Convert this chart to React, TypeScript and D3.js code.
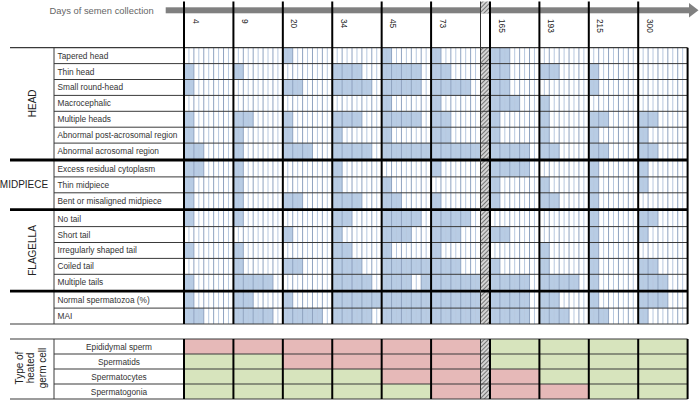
import { useEffect, useRef } from "react";
import * as d3 from "d3";

// days of semen collection (columns)
const days = ["4", "9", "20", "34", "45", "73", "165", "193", "215", "300"];

// row labels per section
const headLabels = [
  "Tapered head",
  "Thin head",
  "Small round-head",
  "Macrocephalic",
  "Multiple heads",
  "Abnormal post-acrosomal region",
  "Abnormal acrosomal region",
];
const midpieceLabels = ["Excess residual cytoplasm", "Thin midpiece", "Bent or misaligned midpiece"];
const flagellaLabels = ["No tail", "Short tail", "Irregularly shaped tail", "Coiled tail", "Multiple tails"];
const outcomeLabels = ["Normal spermatozoa (%)", "MAI"];

// shaded sub-cells, 5 per day ("1" = shaded)
const headFills = [
  ["00000", "00000", "10000", "00000", "10000", "10000", "11000", "00000", "00000", "00000"],
  ["10000", "10000", "00000", "11100", "11110", "11000", "11000", "11000", "10000", "00000"],
  ["10000", "00000", "11000", "11110", "11110", "11110", "11000", "00000", "10000", "00000"],
  ["00000", "00000", "00000", "00000", "10000", "10000", "11100", "10000", "00000", "00000"],
  ["10000", "11000", "10000", "11100", "11110", "11000", "10000", "10000", "11000", "11000"],
  ["10000", "10000", "10000", "10000", "10000", "11000", "10000", "10000", "10000", "10000"],
  ["11000", "10000", "11100", "11110", "11111", "11111", "11110", "11000", "11000", "11000"],
];
const midpieceFills = [
  ["11000", "10000", "00000", "10000", "00000", "10000", "11110", "00000", "10000", "10000"],
  ["10000", "10000", "00000", "10000", "10000", "00000", "10000", "10000", "10000", "10000"],
  ["10000", "10000", "11000", "11100", "11000", "10000", "10000", "11000", "10000", "00000"],
];
const flagellaFills = [
  ["10000", "10000", "00000", "11000", "11110", "11110", "00000", "00000", "10000", "11000"],
  ["00000", "00000", "10000", "10000", "11100", "11100", "11000", "00000", "10000", "10000"],
  ["10000", "10000", "00000", "11000", "10000", "10000", "00000", "10000", "10000", "00000"],
  ["00000", "10000", "11000", "11100", "11111", "11100", "10000", "10000", "10000", "11000"],
  ["10000", "11110", "00000", "11110", "11101", "11111", "11110", "11110", "10000", "11100"],
];
const outcomeFills = [
  ["10000", "11000", "10000", "11111", "11111", "11111", "11110", "11000", "10000", "11100"],
  ["11000", "11110", "11110", "11110", "11111", "11111", "11110", "11100", "11000", "10000"],
];

// type of heated germ cell ("1" = heated / red)
const germCells = ["Epididymal sperm", "Spermatids", "Spermatocytes", "Spermatogonia"];
const germHeated = ["1111110000", "0011110000", "0000111000", "0000011100"];

const FONT = "'Liberation Sans', Arial, Helvetica, sans-serif";
const BLUE = "#b8cce4";
const RED = "#e6b9b8";
const GREEN = "#d7e4bd";

export default function App() {
  const ref = useRef<SVGSVGElement>(null);

  useEffect(() => {
    if (!ref.current) return;
    const svg = d3.select(ref.current);
    svg.selectAll("*").remove();

    const sections = [
      { name: "HEAD", labels: headLabels, fills: headFills, rotate: true },
      { name: "MIDPIECE", labels: midpieceLabels, fills: midpieceFills, rotate: false },
      { name: "FLAGELLA", labels: flagellaLabels, fills: flagellaFills, rotate: true },
      { name: "", labels: outcomeLabels, fills: outcomeFills, rotate: false },
    ];
    const rows = sections.flatMap((s, si) =>
      s.labels.map((label, j) => ({ label, fill: s.fills[j], sec: si }))
    );

    const rowH = 15.9;
    const gridTop = 47.7;
    const secGap = 2;
    const yRow = d3.scaleLinear().domain([0, rows.length]).range([gridTop, gridTop + rows.length * rowH]);
    const rowTop = (i: number) => yRow(i) + rows[i].sec * secGap;
    const gridBottom = yRow(rows.length) + (sections.length - 1) * secGap;

    const xLeft = d3.scaleLinear().domain([0, 30]).range([184, 480.5]);
    const xRight = d3.scaleLinear().domain([30, 50]).range([490, 687.6]);
    const ux = (g: number, k: number) => (g < 6 ? xLeft : xRight)(g * 5 + k);
    const gridRight = ux(9, 5);
    const hatchX0 = ux(5, 5);
    const hatchX1 = ux(6, 0);

    // hatch pattern
    const pat = svg
      .append("defs")
      .append("pattern")
      .attr("id", "hatch")
      .attr("width", 3)
      .attr("height", 3)
      .attr("patternUnits", "userSpaceOnUse")
      .attr("patternTransform", "rotate(45)");
    pat.append("rect").attr("width", 3).attr("height", 3).attr("fill", "#d4d4d4");
    pat.append("line").attr("x1", 0).attr("y1", 0).attr("x2", 0).attr("y2", 3).attr("stroke", "#444").attr("stroke-width", 1.3);

    svg.append("rect").attr("width", 700).attr("height", 402).attr("fill", "#fff");

    // top arrow
    svg
      .append("text")
      .attr("x", 49.5)
      .attr("y", 13.5)
      .style("font-family", FONT)
      .style("font-size", "9.4px")
      .style("fill", "#666")
      .text("Days of semen collection");
    svg.append("rect").attr("x", 165.7).attr("y", 7.3).attr("width", 690 - 165.7).attr("height", 6).attr("fill", "#808080");
    svg
      .append("polygon")
      .attr("points", "689,3 698.5,10.3 689,17.6")
      .attr("fill", "#808080");

    // blue cells
    const cells = rows.flatMap((r, i) =>
      r.fill.flatMap((f, g) =>
        f.split("").map((c, k) => ({ i, g, k, on: c === "1" })).filter((d) => d.on)
      )
    );
    svg
      .append("g")
      .selectAll("rect")
      .data(cells)
      .enter()
      .append("rect")
      .attr("x", (d) => ux(d.g, d.k))
      .attr("y", (d) => rowTop(d.i))
      .attr("width", (d) => ux(d.g, d.k + 1) - ux(d.g, d.k))
      .attr("height", rowH)
      .attr("fill", BLUE);

    // bottom table cells: type of heated germ cell
    const tTop = 339;
    const tRowH = 15;
    const tBottom = tTop + germCells.length * tRowH;
    const germCellsData = germCells.flatMap((label, r) =>
      germHeated[r].split("").map((c, g) => ({ r, g, heated: c === "1" }))
    );
    svg
      .append("g")
      .selectAll("rect")
      .data(germCellsData)
      .enter()
      .append("rect")
      .attr("x", (d) => ux(d.g, 0))
      .attr("y", (d) => tTop + d.r * tRowH)
      .attr("width", (d) => ux(d.g, 5) - ux(d.g, 0))
      .attr("height", tRowH)
      .attr("fill", (d) => (d.heated ? RED : GREEN));

    // thin sub-lines
    const subLines = days.flatMap((_, g) => d3.range(1, 10).map((h) => ({ x: ux(g, h / 2), mid: h % 2 === 1 })));
    svg
      .append("g")
      .selectAll("line")
      .data(subLines)
      .enter()
      .append("line")
      .attr("x1", (d) => d.x)
      .attr("x2", (d) => d.x)
      .attr("y1", gridTop)
      .attr("y2", gridBottom)
      .attr("stroke", (d) => (d.mid ? "#b7c8df" : "#8fa3c0"))
      .attr("stroke-width", 1);

    // hatched gap
    [
      [1.5, 13.3],
      [gridTop, gridBottom],
      [tTop, tBottom],
    ].forEach(([y0, y1]) => {
      svg.append("rect").attr("x", hatchX0).attr("y", y0).attr("width", hatchX1 - hatchX0).attr("height", y1 - y0).attr("fill", "url(#hatch)");
    });

    // row lines
    rows.forEach((r, i) => {
      if (i === 0 || rows[i - 1].sec !== r.sec) return;
      svg.append("line").attr("x1", 54).attr("x2", gridRight).attr("y1", rowTop(i)).attr("y2", rowTop(i)).attr("stroke", "#3a3a3a").attr("stroke-width", 1);
    });
    germCells.forEach((_, r) => {
      if (r === 0) return;
      const y = tTop + r * tRowH;
      svg.append("line").attr("x1", 54).attr("x2", gridRight).attr("y1", y).attr("y2", y).attr("stroke", "#3a3a3a").attr("stroke-width", 1.2);
    });
    [gridTop, gridBottom, tTop, tBottom].forEach((y) => {
      svg.append("line").attr("x1", 10).attr("x2", gridRight).attr("y1", y).attr("y2", y).attr("stroke", "#3a3a3a").attr("stroke-width", 1.2);
    });
    svg.append("line").attr("x1", 54).attr("x2", 54).attr("y1", gridTop).attr("y2", gridBottom).attr("stroke", "#3a3a3a").attr("stroke-width", 1);
    svg.append("line").attr("x1", 54).attr("x2", 54).attr("y1", tTop).attr("y2", tBottom).attr("stroke", "#3a3a3a").attr("stroke-width", 1);

    // section separators and section names
    let start = 0;
    sections.forEach((s, si) => {
      if (si > 0) {
        const y = yRow(start) + si * secGap - secGap / 2;
        svg.append("line").attr("x1", 10).attr("x2", gridRight).attr("y1", y).attr("y2", y).attr("stroke", "#000").attr("stroke-width", 2.8);
      }
      const y0 = yRow(start) + si * secGap;
      const y1 = yRow(start + s.labels.length) + si * secGap;
      const cy = (y0 + y1) / 2;
      if (s.name) {
        const t = svg
          .append("text")
          .style("font-family", FONT)
          .style("font-size", "10px")
          .style("fill", "#222")
          .attr("text-anchor", "middle")
          .text(s.name);
        if (s.rotate) t.attr("transform", `translate(35.5,${cy}) rotate(-90)`);
        else t.attr("x", 24).attr("y", cy + 3.6);
      }
      start += s.labels.length;
    });

    // row labels
    svg
      .append("g")
      .selectAll("text")
      .data(rows)
      .enter()
      .append("text")
      .attr("x", 57.5)
      .attr("y", (d, i) => rowTop(i) + rowH / 2 + 3)
      .style("font-family", FONT)
      .style("font-size", "8.3px")
      .style("fill", "#333")
      .text((d) => d.label);

    svg
      .append("g")
      .selectAll("text")
      .data(germCells)
      .enter()
      .append("text")
      .attr("x", 119)
      .attr("y", (d, r) => tTop + r * tRowH + tRowH / 2 + 3)
      .attr("text-anchor", "middle")
      .style("font-family", FONT)
      .style("font-size", "8.3px")
      .style("fill", "#333")
      .text((d) => d);

    // day group lines and labels
    days.forEach((day, g) => {
      const x = ux(g, 0);
      svg.append("line").attr("x1", x).attr("x2", x).attr("y1", 1.5).attr("y2", gridBottom).attr("stroke", "#000").attr("stroke-width", 2);
      svg.append("line").attr("x1", x).attr("x2", x).attr("y1", tTop).attr("y2", tBottom).attr("stroke", "#000").attr("stroke-width", 2);
      svg
        .append("text")
        .attr("transform", `translate(${x + 8.5},19) rotate(90)`)
        .style("font-family", FONT)
        .style("font-size", "8.3px")
        .style("fill", "#222")
        .text(day);
    });
    [
      [1.5, gridBottom],
      [tTop, tBottom],
    ].forEach(([y0, y1]) => {
      svg.append("line").attr("x1", hatchX0).attr("x2", hatchX0).attr("y1", y0).attr("y2", y1).attr("stroke", "#333").attr("stroke-width", 1);
    });
    [
      [gridTop, gridBottom],
      [tTop, tBottom],
    ].forEach(([y0, y1]) => {
      svg.append("line").attr("x1", gridRight).attr("x2", gridRight).attr("y1", y0).attr("y2", y1).attr("stroke", "#000").attr("stroke-width", 2);
    });

    // left label of the bottom table
    const typeLabel = svg
      .append("text")
      .attr("transform", "translate(0,368) rotate(-90)")
      .attr("text-anchor", "middle")
      .style("font-family", FONT)
      .style("font-size", "10px")
      .style("fill", "#222");
    [
      ["Type of", 22.5],
      ["heated", 34],
      ["germ cell", 45.5],
    ].forEach(([t, y]) => {
      typeLabel.append("tspan").attr("x", 0).attr("y", y as number).text(t as string);
    });
  }, []);

  return (
    <svg
      ref={ref}
      width={700}
      height={402}
      style={{ position: "absolute", left: 0, top: 0, display: "block" }}
    />
  );
}
